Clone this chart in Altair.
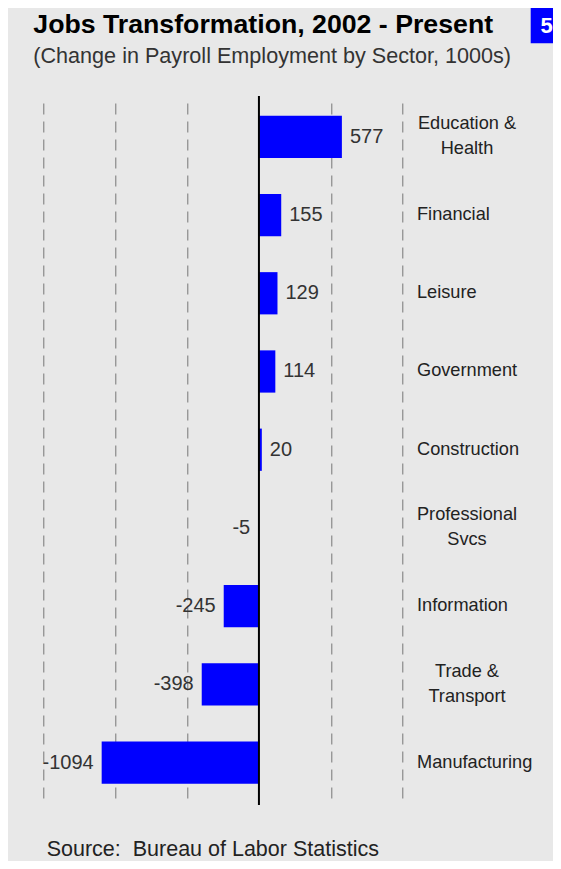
import altair as alt
import pandas as pd

# ---- data ----
sectors = ["Education &\nHealth", "Financial", "Leisure", "Government", "Construction",
           "Professional\nSvcs", "Information", "Trade &\nTransport", "Manufacturing"]
changes = [577, 155, 129, 114, 20, -5, -245, -398, -1094]
grid_values = [-1500, -1000, -500, 500, 1000]
x_domain = [-1500, 1000]

title_text = "Jobs Transformation, 2002 - Present"
subtitle_text = "(Change in Payroll Employment by Sector, 1000s)"
source_text = "Source:\u00a0 Bureau of Labor Statistics"
page_number = "5"

df = pd.DataFrame({"sector": sectors, "change": changes})
df["label"] = df["change"].astype(str)
df["multi"] = df["sector"].str.contains("\n")

W = 359.4
H = 702
FONT = "Liberation Sans"
BG = "#e8e8e8"

x_scale = alt.Scale(domain=x_domain, nice=False, zero=True)
x_axis = alt.Axis(grid=True, values=grid_values, labels=False, ticks=False,
                  domain=False, title=None, gridDash=[11, 7], gridColor="#777777",
                  gridWidth=1, gridOpacity=1)
x_enc = alt.X("change:Q", scale=x_scale, axis=x_axis)
y_enc = alt.Y("sector:N", sort=sectors,
              scale=alt.Scale(paddingInner=0.46, paddingOuter=0.217, align=0.58),
              axis=None)

base = alt.Chart(df)

bars = base.mark_bar(color="#0000ff").encode(x=x_enc, y=y_enc)

zero_rule = alt.Chart(pd.DataFrame({"change": [0]})).mark_rule(
    color="black", strokeWidth=2
).encode(x=x_enc, y=alt.value(0), y2=alt.value(H + 7))

pos_labels = base.transform_filter("datum.change >= 0").mark_text(
    align="left", baseline="middle", dx=8, fontSize=20, font=FONT, color="#333333"
).encode(x=x_enc, y=y_enc, text="label:N")

neg_labels = base.transform_filter("datum.change < 0").mark_text(
    align="right", baseline="middle", dx=-8, fontSize=20, font=FONT, color="#333333"
).encode(x=x_enc, y=y_enc, text="label:N")

cat_single = base.transform_filter("!datum.multi").mark_text(
    align="left", baseline="middle", fontSize=18.2, font=FONT, color="#222222"
).encode(x=alt.value(373.7), y=y_enc, text="sector:N")

cat_multi = base.transform_filter("datum.multi").mark_text(
    align="center", baseline="middle", fontSize=18.2, font=FONT, color="#222222",
    lineBreak="\n", lineHeight=25, dy=-12.5
).encode(x=alt.value(423.7), y=y_enc, text="sector:N")

title = alt.Chart(pd.DataFrame({"t": [title_text]})).mark_text(
    align="left", baseline="alphabetic", fontSize=26.7, fontWeight="bold",
    font=FONT, color="#000000"
).encode(x=alt.value(-10), y=alt.value(-62.7), text="t:N")

subtitle = alt.Chart(pd.DataFrame({"t": [subtitle_text]})).mark_text(
    align="left", baseline="alphabetic", fontSize=21.6, font=FONT, color="#333333"
).encode(x=alt.value(-10), y=alt.value(-32.7), text="t:N")

source = alt.Chart(pd.DataFrame({"t": [source_text]})).mark_text(
    align="left", baseline="alphabetic", fontSize=21.5, font=FONT, color="#222222"
).encode(x=alt.value(3.4), y=alt.value(759.7), text="t:N")

badge_box = alt.Chart(pd.DataFrame({"t": [page_number]})).mark_rect(
    color="#0000ff"
).encode(x=alt.value(487.4), x2=alt.value(530), y=alt.value(-100), y2=alt.value(-52.7))

badge_text = alt.Chart(pd.DataFrame({"t": [page_number]})).mark_text(
    align="center", baseline="alphabetic", fontSize=22, fontWeight="bold",
    font=FONT, color="#ffffff"
).encode(x=alt.value(503.4), y=alt.value(-63.3), text="t:N")

chart = alt.layer(
    bars, zero_rule, pos_labels, neg_labels, cat_single, cat_multi,
    title, subtitle, source, badge_box, badge_text
).properties(
    width=W, height=H,
    autosize=alt.AutoSizeParams(type="none"),
    padding={"left": 35.3, "top": 88, "right": 150.3, "bottom": 63},
    background=BG,
).configure_view(stroke=None)

chart.save("out.html", embed_options={"renderer": "svg", "actions": False})
